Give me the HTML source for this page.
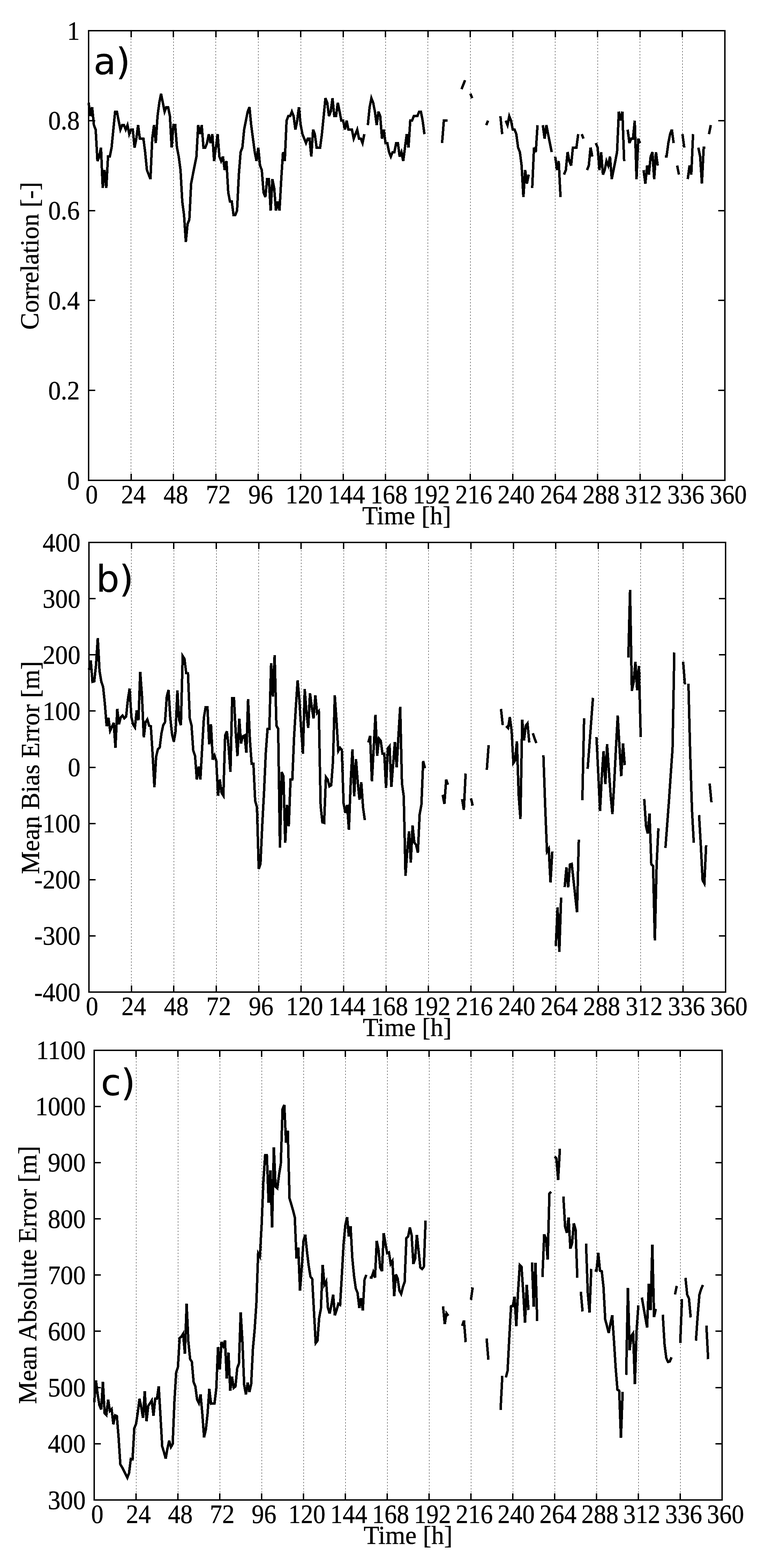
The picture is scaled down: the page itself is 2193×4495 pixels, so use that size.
<!DOCTYPE html>
<html lang="en">
<head>
<meta charset="utf-8">
<title>Correlation, Mean Bias Error and Mean Absolute Error versus Time</title>
<style>
html,body{margin:0;padding:0;background:#fff;}
body{width:2193px;height:4495px;overflow:hidden;}
svg{display:block;}
</style>
</head>
<body>
<svg xmlns="http://www.w3.org/2000/svg" width="2193" height="4495" viewBox="0 0 2193 4495">
<rect width="2193" height="4495" fill="#fff"/>
<g id="panel-a">
<path d="M375.5 110.0V1358.0M497.5 110.0V1358.0M618.5 110.0V1358.0M740.5 110.0V1358.0M862.5 110.0V1358.0M983.5 110.0V1358.0M1105.5 110.0V1358.0M1226.5 110.0V1358.0M1348.5 110.0V1358.0M1470.5 110.0V1358.0M1591.5 110.0V1358.0M1713.5 110.0V1358.0M1834.5 110.0V1358.0M1956.5 110.0V1358.0" stroke="#000" stroke-width="1" stroke-dasharray="4 5" fill="none" shape-rendering="crispEdges"/>
<path d="M376 88.0v19M376 1377.0v-19M497 88.0v19M497 1377.0v-19M619 88.0v19M619 1377.0v-19M740 88.0v19M740 1377.0v-19M862 88.0v19M862 1377.0v-19M984 88.0v19M984 1377.0v-19M1105 88.0v19M1105 1377.0v-19M1227 88.0v19M1227 1377.0v-19M1348 88.0v19M1348 1377.0v-19M1470 88.0v19M1470 1377.0v-19M1592 88.0v19M1592 1377.0v-19M1713 88.0v19M1713 1377.0v-19M1835 88.0v19M1835 1377.0v-19M1956 88.0v19M1956 1377.0v-19" stroke="#000" stroke-width="4" fill="none" shape-rendering="crispEdges"/>
<path d="M254.0 1119h19M2078.0 1119h-19M254.0 861h19M2078.0 861h-19M254.0 604h19M2078.0 604h-19M254.0 346h19M2078.0 346h-19" stroke="#000" stroke-width="4" fill="none" shape-rendering="crispEdges"/>
<path d="M254.0,294.2L259.1,332.9L264.1,307.1L269.2,358.7L274.3,371.6L279.3,461.8L284.4,448.9L289.5,423.1L294.5,539.1L299.6,487.6L304.7,539.1L309.7,448.9L314.8,448.9L319.9,423.1L324.9,371.6L330.0,320.0L335.1,320.0L340.1,345.8L345.2,371.6L350.3,358.7L355.3,358.7L360.4,371.6L365.5,358.7L370.5,384.5L375.6,371.6L380.7,371.6L385.7,423.1L390.8,397.4L395.9,358.7L400.9,397.4L406.0,397.4L411.1,397.4L416.1,436.0L421.2,487.6L426.3,500.5L431.3,513.4L436.4,397.4L441.5,358.7L446.5,410.2L451.6,332.9L456.7,294.2L461.7,268.5L466.8,294.2L471.9,320.0L476.9,307.1L482.0,307.1L487.1,332.9L492.1,423.1L497.2,358.7L502.3,358.7L507.3,423.1L512.4,448.9L517.5,487.6L522.5,577.8L527.6,616.5L532.7,693.8L537.7,642.3L542.8,629.4L547.9,526.3L552.9,500.5L558.0,474.7L563.1,448.9L568.1,358.7L573.2,384.5L578.3,358.7L583.3,423.1L588.4,423.1L593.5,410.2L598.5,384.5L603.6,410.2L608.7,384.5L613.7,461.8L618.8,423.1L623.9,384.5L628.9,448.9L634.0,461.8L639.1,448.9L644.1,487.6L649.2,461.8L654.3,552.0L659.3,577.8L664.4,577.8L669.5,616.5L674.5,616.5L679.6,603.6L684.7,500.5L689.7,436.0L694.8,423.1L699.9,371.6L704.9,345.8L710.0,320.0L715.1,307.1L720.1,358.7L725.2,397.4L730.3,436.0L735.3,461.8L740.4,423.1L745.5,474.7L750.5,487.6L755.6,552.0L760.7,564.9L765.7,513.4L770.8,513.4L775.9,603.6L780.9,513.4L786.0,539.1L791.1,603.6L796.1,577.8L801.2,603.6L806.3,513.4L811.3,436.0L816.4,461.8L821.5,345.8L826.5,332.9L831.6,332.9L836.7,320.0L841.7,332.9L846.8,371.6L851.9,345.8L856.9,307.1L862.0,358.7L867.1,384.5L872.1,397.4L877.2,410.2L882.3,397.4L887.3,397.4L892.4,448.9L897.5,371.6L902.5,384.5L907.6,423.1L912.7,423.1L917.7,423.1L922.8,384.5L927.9,332.9L932.9,281.4L938.0,294.2L943.1,332.9L948.1,320.0L953.2,281.4L958.3,332.9L963.3,332.9L968.4,294.2L973.5,320.0L978.5,345.8L983.6,345.8L988.7,371.6L993.7,345.8L998.8,371.6L1003.9,371.6L1008.9,371.6L1014.0,397.4L1019.1,384.5L1024.1,371.6L1029.2,397.4L1034.3,397.4L1039.3,410.2L1044.4,384.5M1054.5,358.7L1059.6,307.1L1064.7,281.4L1069.7,294.2L1074.8,320.0L1079.9,358.7L1084.9,320.0L1090.0,332.9L1095.1,397.4L1100.1,371.6L1105.2,410.2L1110.3,410.2L1115.3,436.0L1120.4,448.9L1125.5,436.0L1130.5,436.0L1135.6,410.2L1140.7,410.2L1145.7,448.9L1150.8,436.0L1155.9,461.8L1160.9,423.1L1166.0,384.5L1171.1,423.1L1176.1,345.8L1181.2,345.8L1186.3,332.9L1191.3,332.9L1196.4,332.9L1201.5,320.0L1206.5,320.0L1211.6,345.8L1216.7,384.5M1267.3,410.2L1272.4,345.8L1277.5,345.8L1282.5,345.8M1323.1,255.6L1328.1,242.7L1333.2,229.8M1348.4,268.5L1353.5,281.4M1394.0,358.7L1399.1,345.8M1434.5,332.9L1439.6,384.5M1449.7,345.8L1454.8,358.7L1459.9,332.9L1464.9,345.8L1470.0,371.6L1475.1,371.6L1480.1,384.5L1485.2,423.1L1490.3,436.0L1495.3,474.7L1500.4,564.9L1505.5,487.6L1510.5,526.3L1515.6,500.5M1525.7,539.1L1530.8,423.1L1535.9,436.0L1540.9,358.7M1556.1,358.7L1561.2,397.4L1566.3,358.7L1571.3,384.5L1576.4,410.2L1581.5,436.0M1591.6,448.9L1596.7,487.6L1601.7,461.8L1606.8,564.9M1616.9,500.5L1622.0,487.6L1627.1,436.0L1632.1,461.8L1637.2,474.7L1642.3,423.1L1647.3,423.1L1652.4,423.1L1657.5,384.5M1667.6,384.5L1672.7,397.4M1682.8,487.6L1687.9,474.7L1692.9,423.1L1698.0,448.9M1708.1,410.2L1713.2,423.1L1718.3,487.6L1723.3,436.0L1728.4,500.5L1733.5,487.6L1738.5,461.8L1743.6,474.7L1748.7,448.9L1753.7,513.4L1758.8,487.6L1763.9,461.8L1768.9,436.0L1774.0,320.0L1779.1,345.8L1784.1,320.0L1789.2,461.8M1799.3,371.6L1804.4,410.2L1809.5,397.4L1814.5,397.4L1819.6,345.8L1824.7,513.4L1829.7,397.4L1834.8,410.2M1844.9,487.6L1850.0,526.3L1855.1,474.7L1860.1,500.5L1865.2,448.9L1870.3,436.0L1875.3,513.4L1880.4,436.0L1885.5,474.7M1905.7,448.9L1910.8,448.9L1915.9,410.2L1920.9,384.5L1926.0,371.6L1931.1,410.2M1941.2,474.7L1946.3,500.5M1956.4,384.5L1961.5,423.1M1971.6,513.4L1976.7,474.7L1981.7,500.5L1986.8,384.5M2002.0,423.1L2007.1,448.9L2012.1,526.3L2017.2,423.1L2022.3,423.1M2032.4,384.5L2037.5,358.7" stroke="#000" stroke-width="7" fill="none" stroke-linejoin="miter" stroke-miterlimit="3.8" shape-rendering="crispEdges" stroke-linecap="butt"/>
<rect x="254" y="88" width="1824" height="1289" fill="none" stroke="#000" stroke-width="4" shape-rendering="crispEdges"/>
<g font-family="'Liberation Serif', serif" font-size="76" fill="#000" stroke="#000" stroke-width="0.6">
<text transform="translate(228.5 1402.5) scale(0.95 1)" text-anchor="end">0</text>
<text transform="translate(228.5 1144.7) scale(0.95 1)" text-anchor="end">0.2</text>
<text transform="translate(228.5 886.9) scale(0.95 1)" text-anchor="end">0.4</text>
<text transform="translate(228.5 629.1) scale(0.95 1)" text-anchor="end">0.6</text>
<text transform="translate(228.5 371.3) scale(0.95 1)" text-anchor="end">0.8</text>
<text transform="translate(228.5 113.5) scale(0.95 1)" text-anchor="end">1</text>
<text transform="translate(262.9 1443.0) scale(0.93 1)" text-anchor="middle">0</text>
<text transform="translate(382.5 1443.0) scale(0.93 1)" text-anchor="middle">24</text>
<text transform="translate(504.1 1443.0) scale(0.93 1)" text-anchor="middle">48</text>
<text transform="translate(625.7 1443.0) scale(0.93 1)" text-anchor="middle">72</text>
<text transform="translate(747.3 1443.0) scale(0.93 1)" text-anchor="middle">96</text>
<text transform="translate(871.8 1443.0) scale(0.93 1)" text-anchor="middle">120</text>
<text transform="translate(993.4 1443.0) scale(0.93 1)" text-anchor="middle">144</text>
<text transform="translate(1115.0 1443.0) scale(0.93 1)" text-anchor="middle">168</text>
<text transform="translate(1236.6 1443.0) scale(0.93 1)" text-anchor="middle">192</text>
<text transform="translate(1358.2 1443.0) scale(0.93 1)" text-anchor="middle">216</text>
<text transform="translate(1479.8 1443.0) scale(0.93 1)" text-anchor="middle">240</text>
<text transform="translate(1601.4 1443.0) scale(0.93 1)" text-anchor="middle">264</text>
<text transform="translate(1723.0 1443.0) scale(0.93 1)" text-anchor="middle">288</text>
<text transform="translate(1844.6 1443.0) scale(0.93 1)" text-anchor="middle">312</text>
<text transform="translate(1966.2 1443.0) scale(0.93 1)" text-anchor="middle">336</text>
<text transform="translate(2087.8 1443.0) scale(0.93 1)" text-anchor="middle">360</text>
</g>
<g font-family="'Liberation Serif', serif" font-size="73" fill="#000" stroke="#000" stroke-width="0.6">
<text x="1166.0" y="1503.0" text-anchor="middle">Time [h]</text>
<text transform="translate(110 733.5) rotate(-90)" text-anchor="middle">Correlation [-]</text>
</g>
<text transform="translate(268.2 213) scale(1.0 1)" font-family="'DejaVu Sans', sans-serif" font-size="105" fill="#000" stroke="#000" stroke-width="0.4">a)</text>
</g>
<g id="panel-b">
<path d="M376.5 1577.0V2825.0M498.5 1577.0V2825.0M620.5 1577.0V2825.0M741.5 1577.0V2825.0M863.5 1577.0V2825.0M985.5 1577.0V2825.0M1106.5 1577.0V2825.0M1228.5 1577.0V2825.0M1350.5 1577.0V2825.0M1471.5 1577.0V2825.0M1593.5 1577.0V2825.0M1715.5 1577.0V2825.0M1836.5 1577.0V2825.0M1958.5 1577.0V2825.0" stroke="#000" stroke-width="1" stroke-dasharray="4 5" fill="none" shape-rendering="crispEdges"/>
<path d="M377 1555.0v19M377 2844.0v-19M498 1555.0v19M498 2844.0v-19M620 1555.0v19M620 2844.0v-19M742 1555.0v19M742 2844.0v-19M863 1555.0v19M863 2844.0v-19M985 1555.0v19M985 2844.0v-19M1107 1555.0v19M1107 2844.0v-19M1228 1555.0v19M1228 2844.0v-19M1350 1555.0v19M1350 2844.0v-19M1472 1555.0v19M1472 2844.0v-19M1593 1555.0v19M1593 2844.0v-19M1715 1555.0v19M1715 2844.0v-19M1837 1555.0v19M1837 2844.0v-19M1958 1555.0v19M1958 2844.0v-19" stroke="#000" stroke-width="4" fill="none" shape-rendering="crispEdges"/>
<path d="M255.0 2683h19M2080.0 2683h-19M255.0 2522h19M2080.0 2522h-19M255.0 2361h19M2080.0 2361h-19M255.0 2200h19M2080.0 2200h-19M255.0 2038h19M2080.0 2038h-19M255.0 1877h19M2080.0 1877h-19M255.0 1716h19M2080.0 1716h-19" stroke="#000" stroke-width="4" fill="none" shape-rendering="crispEdges"/>
<path d="M255.0,1920.8L260.1,1893.4L265.1,1954.6L270.2,1953.0L275.3,1906.3L280.3,1828.9L285.4,1924.0L290.5,1954.6L295.6,1969.1L300.6,2017.4L305.7,2081.9L310.8,2057.7L315.8,2094.8L320.9,2083.5L326.0,2072.2L331.0,2143.9L336.1,2031.9L341.2,2076.2L346.2,2056.1L351.3,2051.3L356.4,2059.3L361.5,2054.5L366.5,2006.2L371.6,1973.9L376.7,2056.1L381.7,2077.0L386.8,2085.1L391.9,2036.8L396.9,2065.0L402.0,1926.4L407.1,1996.5L412.2,2114.1L417.2,2070.6L422.3,2062.5L427.4,2080.3L432.4,2081.9L437.5,2162.4L442.6,2256.7L447.6,2168.9L452.7,2147.9L457.8,2143.1L462.8,2102.8L467.9,2078.7L473.0,2070.6L478.1,1996.5L483.1,1978.0L488.2,2057.7L493.3,2106.0L498.3,2126.2L503.4,2096.4L508.5,1978.8L513.5,2064.2L518.6,2078.7L523.7,1880.5L528.8,1888.5L533.8,1929.6L538.9,1930.4L544.0,2059.3L549.0,2079.5L554.1,2152.0L559.2,2167.3L564.2,2234.9L569.3,2197.9L574.4,2234.9L579.4,2146.3L584.5,2056.9L589.6,2027.1L594.7,2027.1L599.7,2134.2L604.8,2076.2L609.9,2177.7L614.9,2165.7L620.0,2181.0L625.1,2281.2L630.1,2234.9L635.2,2272.8L640.3,2280.9L645.3,2108.5L650.4,2096.4L655.5,2143.6L660.6,2212.9L665.6,2001.3L670.7,2001.3L675.8,2100.2L680.8,2167.3L685.9,2060.0L691.0,2131.2L696.0,2110.9L701.1,2108.5L706.2,2158.1L711.2,2004.1L716.3,2118.9L721.4,2189.8L726.5,2189.8L731.5,2296.2L736.6,2313.9L741.7,2491.1L746.7,2476.6L751.8,2365.5L756.9,2270.4L761.9,2158.4L767.0,2089.1L772.1,2089.1L777.2,1901.4L782.2,1996.5L787.3,1877.9L792.4,2080.3L797.4,2089.1L802.5,2429.9L807.6,2213.2L812.6,2225.3L817.7,2416.2L822.8,2307.5L827.8,2368.7L832.9,2234.9L838.0,2234.9L843.1,2110.9L848.1,2027.1L853.2,1950.2L858.3,2007.8L863.3,2089.9L868.4,2160.8L873.5,1975.5L878.5,2041.6L883.6,2086.7L888.7,1987.3L893.8,2027.1L898.8,2059.3L903.9,1993.3L909.0,2043.9L914.0,2038.4L919.1,2309.1L924.2,2357.4L929.2,2359.0L934.3,2227.7L939.4,2234.9L944.4,2254.3L949.5,2251.1L954.6,2182.3L959.7,1993.3L964.7,2067.4L969.8,2152.8L974.9,2143.9L979.9,2149.6L985.0,2303.6L990.1,2330.0L995.1,2307.5L1000.2,2379.0L1005.3,2243.0L1010.3,2148.4L1015.4,2282.8L1020.5,2176.3L1025.6,2243.0L1030.6,2293.0L1035.7,2242.5L1040.8,2315.5L1045.8,2351.0M1056.0,2128.6L1061.0,2109.3L1066.1,2239.5L1071.2,2146.3L1076.2,2049.2L1081.3,2166.6L1086.4,2117.3L1091.5,2123.8L1096.5,2160.8L1101.6,2160.8L1106.7,2259.1L1111.7,2145.4L1116.8,2139.1L1121.9,2255.9L1126.9,2191.9L1132.0,2127.3L1137.1,2199.7L1142.2,2109.3L1147.2,2026.5L1152.3,2245.6L1157.4,2282.8L1162.4,2510.5L1167.5,2439.6L1172.6,2383.2L1177.6,2472.6L1182.7,2366.6L1187.8,2415.4L1192.8,2421.9L1197.9,2444.4L1203.0,2334.8L1208.1,2306.6L1213.1,2181.8L1218.2,2202.1M1268.9,2278.5L1274.0,2304.2L1279.0,2234.9L1284.1,2249.4M1324.7,2290.9L1329.7,2321.5L1334.8,2217.5M1350.0,2288.4L1355.1,2309.5M1395.6,2207.1L1400.7,2136.2M1436.2,2032.4L1441.2,2078.7M1451.4,2081.6L1456.5,2086.7L1461.5,2055.8L1466.6,2094.8L1471.7,2187.6L1476.7,2179.7L1481.8,2125.1L1486.9,2280.1L1491.9,2347.7L1497.0,2063.2L1502.1,2123.0L1507.2,2080.3L1512.2,2073.8L1517.3,2128.6M1527.4,2102.0L1532.5,2117.3L1537.6,2130.2M1557.8,2164.7L1562.9,2312.3L1568.0,2441.2L1573.1,2433.1L1578.1,2529.8L1583.2,2441.2M1593.3,2711.9L1598.4,2601.2L1603.5,2728.5L1608.5,2573.3M1618.7,2543.3L1623.8,2486.3L1628.8,2543.3L1633.9,2478.2L1639.0,2476.6L1644.0,2522.9L1649.1,2569.1L1654.2,2615.2L1659.2,2406.9M1669.4,2294.1L1674.4,2058.7M1684.6,2204.3L1689.7,2136.7L1694.7,2069.0L1699.8,2000.5M1709.9,2113.3L1715.0,2217.2L1720.1,2324.7L1725.1,2226.9L1730.2,2153.1L1735.3,2248.2L1740.3,2133.4L1745.4,2206.8L1750.5,2279.3L1755.6,2334.0L1760.6,2247.8L1765.7,2144.7L1770.8,2051.3L1775.8,2140.7L1780.9,2225.3L1786.0,2131.3L1791.0,2193.4M1801.2,1885.3L1806.2,1691.2L1811.3,1980.4L1816.4,1955.4L1821.5,1896.9L1826.5,1979.2L1831.6,1908.8L1836.7,2113.3M1846.8,2290.5L1851.9,2368.2L1856.9,2389.6L1862.0,2331.9L1867.1,2477.8L1872.2,2483.1L1877.2,2696.1L1882.3,2479.9L1887.4,2374.5M1907.6,2430.7L1912.7,2362.2L1917.8,2294.6L1922.8,2219.6L1927.9,2147.9L1933.0,1870.5M1958.3,1896.9L1963.4,1962.0M1973.5,1959.6L1978.6,2162.8L1983.7,2322.0L1988.8,2415.9M2004.0,2336.5L2009.0,2424.1L2014.1,2523.4L2019.2,2532.7L2024.2,2423.1M2034.4,2246.2L2039.4,2300.2" stroke="#000" stroke-width="7" fill="none" stroke-linejoin="miter" stroke-miterlimit="3.8" shape-rendering="crispEdges" stroke-linecap="butt"/>
<rect x="255" y="1555" width="1825" height="1289" fill="none" stroke="#000" stroke-width="4" shape-rendering="crispEdges"/>
<g font-family="'Liberation Serif', serif" font-size="76" fill="#000" stroke="#000" stroke-width="0.6">
<text transform="translate(230.5 2869.5) scale(0.95 1)" text-anchor="end">-400</text>
<text transform="translate(230.5 2708.4) scale(0.95 1)" text-anchor="end">-300</text>
<text transform="translate(230.5 2547.2) scale(0.95 1)" text-anchor="end">-200</text>
<text transform="translate(230.5 2386.1) scale(0.95 1)" text-anchor="end">-100</text>
<text transform="translate(230.5 2225.0) scale(0.95 1)" text-anchor="end">0</text>
<text transform="translate(230.5 2063.9) scale(0.95 1)" text-anchor="end">100</text>
<text transform="translate(230.5 1902.8) scale(0.95 1)" text-anchor="end">200</text>
<text transform="translate(230.5 1741.6) scale(0.95 1)" text-anchor="end">300</text>
<text transform="translate(230.5 1580.5) scale(0.95 1)" text-anchor="end">400</text>
<text transform="translate(263.9 2910.0) scale(0.93 1)" text-anchor="middle">0</text>
<text transform="translate(383.6 2910.0) scale(0.93 1)" text-anchor="middle">24</text>
<text transform="translate(505.2 2910.0) scale(0.93 1)" text-anchor="middle">48</text>
<text transform="translate(626.9 2910.0) scale(0.93 1)" text-anchor="middle">72</text>
<text transform="translate(748.6 2910.0) scale(0.93 1)" text-anchor="middle">96</text>
<text transform="translate(873.1 2910.0) scale(0.93 1)" text-anchor="middle">120</text>
<text transform="translate(994.8 2910.0) scale(0.93 1)" text-anchor="middle">144</text>
<text transform="translate(1116.5 2910.0) scale(0.93 1)" text-anchor="middle">168</text>
<text transform="translate(1238.1 2910.0) scale(0.93 1)" text-anchor="middle">192</text>
<text transform="translate(1359.8 2910.0) scale(0.93 1)" text-anchor="middle">216</text>
<text transform="translate(1481.5 2910.0) scale(0.93 1)" text-anchor="middle">240</text>
<text transform="translate(1603.1 2910.0) scale(0.93 1)" text-anchor="middle">264</text>
<text transform="translate(1724.8 2910.0) scale(0.93 1)" text-anchor="middle">288</text>
<text transform="translate(1846.5 2910.0) scale(0.93 1)" text-anchor="middle">312</text>
<text transform="translate(1968.1 2910.0) scale(0.93 1)" text-anchor="middle">336</text>
<text transform="translate(2089.8 2910.0) scale(0.93 1)" text-anchor="middle">360</text>
</g>
<g font-family="'Liberation Serif', serif" font-size="73" fill="#000" stroke="#000" stroke-width="0.6">
<text x="1167.5" y="2970.0" text-anchor="middle">Time [h]</text>
<text transform="translate(111.5 2200.5) rotate(-90)" text-anchor="middle">Mean Bias Error [m]</text>
</g>
<text transform="translate(275.4 1696) scale(1.0 1)" font-family="'DejaVu Sans', sans-serif" font-size="105" fill="#000" stroke="#000" stroke-width="0.4">b)</text>
</g>
<g id="panel-c">
<path d="M390.5 3032.5V4281.0M510.5 3032.5V4281.0M630.5 3032.5V4281.0M750.5 3032.5V4281.0M870.5 3032.5V4281.0M990.5 3032.5V4281.0M1110.5 3032.5V4281.0M1230.5 3032.5V4281.0M1350.5 3032.5V4281.0M1470.5 3032.5V4281.0M1590.5 3032.5V4281.0M1710.5 3032.5V4281.0M1830.5 3032.5V4281.0M1950.5 3032.5V4281.0" stroke="#000" stroke-width="1" stroke-dasharray="4 5" fill="none" shape-rendering="crispEdges"/>
<path d="M390 3010.5v19M390 4300.0v-19M510 3010.5v19M510 4300.0v-19M630 3010.5v19M630 4300.0v-19M750 3010.5v19M750 4300.0v-19M870 3010.5v19M870 4300.0v-19M990 3010.5v19M990 4300.0v-19M1110 3010.5v19M1110 4300.0v-19M1230 3010.5v19M1230 4300.0v-19M1350 3010.5v19M1350 4300.0v-19M1470 3010.5v19M1470 4300.0v-19M1590 3010.5v19M1590 4300.0v-19M1710 3010.5v19M1710 4300.0v-19M1830 3010.5v19M1830 4300.0v-19M1950 3010.5v19M1950 4300.0v-19" stroke="#000" stroke-width="4" fill="none" shape-rendering="crispEdges"/>
<path d="M270.0 4139h19M2070.0 4139h-19M270.0 3978h19M2070.0 3978h-19M270.0 3816h19M2070.0 3816h-19M270.0 3655h19M2070.0 3655h-19M270.0 3494h19M2070.0 3494h-19M270.0 3333h19M2070.0 3333h-19M270.0 3172h19M2070.0 3172h-19" stroke="#000" stroke-width="4" fill="none" shape-rendering="crispEdges"/>
<path d="M270.0,4020.0L275.0,3957.3L280.0,3997.3L285.0,4028.2L290.0,4040.6L295.0,3961.5L300.0,4051.1L305.0,4056.3L310.0,4012.1L315.0,4044.8L320.0,4039.7L325.0,4083.0L330.0,4057.3L335.0,4059.3L340.0,4121.4L345.0,4198.0L350.0,4206.2L355.0,4216.2L360.0,4226.2L365.0,4236.2L370.0,4222.6L375.0,4182.3L380.0,4183.5L385.0,4094.5L390.0,4082.1L395.0,4049.0L400.0,4010.0L405.0,4034.5L410.0,4064.5L415.0,3988.4L420.0,4074.2L425.0,4030.3L430.0,4022.8L435.0,4014.7L440.0,4058.2L445.0,4009.9L450.0,4009.9L455.0,3974.1L460.0,4059.3L465.0,4146.2L470.0,4162.7L475.0,4181.4L480.0,4152.4L485.0,4130.3L490.0,4148.3L495.0,4139.9L500.0,4017.9L505.0,3934.9L510.0,3919.6L515.0,3835.8L520.0,3831.8L525.0,3823.5L530.0,3880.4L535.0,3737.6L540.0,3846.3L545.0,3895.9L550.0,3904.1L555.0,3962.0L560.0,3974.4L565.0,4011.6L570.0,4022.1L575.0,3997.6L580.0,4053.1L585.0,4120.3L590.0,4098.5L595.0,4053.4L600.0,3981.7L605.0,4024.0L610.0,4023.1L615.0,4023.1L620.0,3980.8L625.0,3861.7L630.0,3925.4L635.0,3847.2L640.0,3858.7L645.0,3842.7L650.0,3951.8L655.0,3877.7L660.0,3986.5L665.0,3946.5L670.0,3978.6L675.0,3974.4L680.0,3922.8L685.0,3908.3L690.0,3762.4L695.0,3846.3L700.0,3970.4L705.0,3997.3L710.0,3963.8L715.0,3990.5L720.0,3968.3L725.0,3866.9L730.0,3811.6L735.0,3735.8L740.0,3593.2L745.0,3602.1L750.0,3511.8L755.0,3387.7L760.0,3311.9L765.0,3311.9L770.0,3447.8L775.0,3355.1L780.0,3518.6L785.0,3289.0L790.0,3402.2L795.0,3406.4L800.0,3367.2L805.0,3336.1L810.0,3178.9L815.0,3167.5L820.0,3276.1L825.0,3241.0L830.0,3435.4L835.0,3452.3L840.0,3469.6L845.0,3489.2L850.0,3607.7L855.0,3576.3L860.0,3699.7L865.0,3635.1L870.0,3556.9L875.0,3539.4L880.0,3587.6L885.0,3629.0L890.0,3659.9L895.0,3666.2L900.0,3759.2L905.0,3850.3L910.0,3843.8L915.0,3777.8L920.0,3751.0L925.0,3625.8L930.0,3682.7L935.0,3673.5L940.0,3748.9L945.0,3765.5L950.0,3740.7L955.0,3711.7L960.0,3770.7L965.0,3755.2L970.0,3737.5L975.0,3740.7L980.0,3655.2L985.0,3565.5L990.0,3511.8L995.0,3489.2L1000.0,3544.7L1005.0,3515.2L1010.0,3606.9L1015.0,3658.5L1020.0,3693.9L1025.0,3706.0L1030.0,3749.5L1035.0,3721.3L1040.0,3756.8L1045.0,3668.8L1050.0,3654.4M1060.0,3661.7L1065.0,3662.7L1070.0,3647.2L1075.0,3662.7L1080.0,3557.1L1085.0,3582.7L1090.0,3634.3L1095.0,3644.0L1100.0,3535.0L1105.0,3565.5L1110.0,3592.4L1115.0,3590.3L1120.0,3623.3L1125.0,3615.0L1130.0,3715.4L1135.0,3653.3L1140.0,3664.9L1145.0,3699.9L1150.0,3709.2L1155.0,3689.6L1160.0,3675.1L1165.0,3548.9L1170.0,3544.7L1175.0,3518.9L1180.0,3540.8L1185.0,3623.3L1190.0,3608.8L1195.0,3540.2L1200.0,3585.9L1205.0,3633.7L1210.0,3637.8L1215.0,3631.6L1220.0,3499.2M1270.0,3744.7L1275.0,3795.5L1280.0,3764.9L1285.0,3771.9M1325.0,3801.0L1330.0,3785.5L1335.0,3847.5M1350.0,3726.5L1355.0,3690.7M1395.0,3837.2L1400.0,3898.2M1435.0,4041.9L1440.0,3944.3M1450.0,3948.8L1455.0,3930.2L1460.0,3834.2L1465.0,3744.7L1470.0,3743.9L1475.0,3717.1L1480.0,3801.4L1485.0,3704.7L1490.0,3626.2L1495.0,3631.1L1500.0,3704.7L1505.0,3791.6L1510.0,3683.1L1515.0,3755.5M1525.0,3618.8L1530.0,3746.0L1535.0,3619.8L1540.0,3786.9M1555.0,3661.2L1560.0,3538.6L1565.0,3550.5L1570.0,3610.6L1575.0,3421.5L1580.0,3416.7M1590.0,3315.8L1595.0,3320.9L1600.0,3382.4L1605.0,3293.1M1615.0,3430.2L1620.0,3516.6L1625.0,3534.0L1630.0,3490.0L1635.0,3579.5L1640.0,3564.0L1645.0,3507.1L1650.0,3524.7L1655.0,3663.0M1665.0,3703.0L1670.0,3759.5M1680.0,3565.0L1685.0,3706.8L1690.0,3762.6L1695.0,3637.5M1705.0,3641.7L1710.0,3642.8L1715.0,3591.6L1720.0,3642.8L1725.0,3644.0L1730.0,3689.4L1735.0,3782.6L1740.0,3801.3L1745.0,3821.0L1750.0,3794.2L1755.0,3770.5L1760.0,3843.2L1765.0,3922.3L1770.0,3984.1L1775.0,3986.3L1780.0,4121.6L1785.0,3989.9M1795.0,3941.5L1800.0,3692.3L1805.0,3870.6L1810.0,3829.2L1815.0,3822.2L1820.0,3967.8L1825.0,3812.9L1830.0,3741.8M1840.0,3719.7L1845.0,3748.6L1850.0,3777.3L1855.0,3805.5L1860.0,3680.6L1865.0,3755.8L1870.0,3567.6L1875.0,3775.7L1880.0,3752.3M1900.0,3768.6L1905.0,3853.5L1910.0,3893.0L1915.0,3904.3L1920.0,3903.0L1925.0,3891.1M1935.0,3710.9L1940.0,3686.4M1950.0,3850.3L1955.0,3723.8M1965.0,3663.3L1970.0,3711.3L1975.0,3722.6L1980.0,3776.6M1995.0,3843.5L2000.0,3771.9L2005.0,3711.3L2010.0,3695.5L2015.0,3683.6M2025.0,3799.7L2030.0,3896.4" stroke="#000" stroke-width="7" fill="none" stroke-linejoin="miter" stroke-miterlimit="3.8" shape-rendering="crispEdges" stroke-linecap="butt"/>
<rect x="270" y="3010.5" width="1800" height="1289.5" fill="none" stroke="#000" stroke-width="4" shape-rendering="crispEdges"/>
<g font-family="'Liberation Serif', serif" font-size="76" fill="#000" stroke="#000" stroke-width="0.6">
<text transform="translate(245.5 4325.5) scale(0.95 1)" text-anchor="end">300</text>
<text transform="translate(245.5 4164.3) scale(0.95 1)" text-anchor="end">400</text>
<text transform="translate(245.5 4003.1) scale(0.95 1)" text-anchor="end">500</text>
<text transform="translate(245.5 3841.9) scale(0.95 1)" text-anchor="end">600</text>
<text transform="translate(245.5 3680.8) scale(0.95 1)" text-anchor="end">700</text>
<text transform="translate(245.5 3519.6) scale(0.95 1)" text-anchor="end">800</text>
<text transform="translate(245.5 3358.4) scale(0.95 1)" text-anchor="end">900</text>
<text transform="translate(245.5 3197.2) scale(0.95 1)" text-anchor="end">1000</text>
<text transform="translate(245.5 3036.0) scale(0.95 1)" text-anchor="end">1100</text>
<text transform="translate(278.9 4366.0) scale(0.93 1)" text-anchor="middle">0</text>
<text transform="translate(396.9 4366.0) scale(0.93 1)" text-anchor="middle">24</text>
<text transform="translate(516.9 4366.0) scale(0.93 1)" text-anchor="middle">48</text>
<text transform="translate(636.9 4366.0) scale(0.93 1)" text-anchor="middle">72</text>
<text transform="translate(756.9 4366.0) scale(0.93 1)" text-anchor="middle">96</text>
<text transform="translate(879.8 4366.0) scale(0.93 1)" text-anchor="middle">120</text>
<text transform="translate(999.8 4366.0) scale(0.93 1)" text-anchor="middle">144</text>
<text transform="translate(1119.8 4366.0) scale(0.93 1)" text-anchor="middle">168</text>
<text transform="translate(1239.8 4366.0) scale(0.93 1)" text-anchor="middle">192</text>
<text transform="translate(1359.8 4366.0) scale(0.93 1)" text-anchor="middle">216</text>
<text transform="translate(1479.8 4366.0) scale(0.93 1)" text-anchor="middle">240</text>
<text transform="translate(1599.8 4366.0) scale(0.93 1)" text-anchor="middle">264</text>
<text transform="translate(1719.8 4366.0) scale(0.93 1)" text-anchor="middle">288</text>
<text transform="translate(1839.8 4366.0) scale(0.93 1)" text-anchor="middle">312</text>
<text transform="translate(1959.8 4366.0) scale(0.93 1)" text-anchor="middle">336</text>
<text transform="translate(2079.8 4366.0) scale(0.93 1)" text-anchor="middle">360</text>
</g>
<g font-family="'Liberation Serif', serif" font-size="73" fill="#000" stroke="#000" stroke-width="0.6">
<text x="1170.0" y="4426.0" text-anchor="middle">Time [h]</text>
<text transform="translate(103.7 3654.8) rotate(-90)" text-anchor="middle">Mean Absolute Error [m]</text>
</g>
<text transform="translate(289.2 3140.0) scale(1.0 1)" font-family="'DejaVu Sans', sans-serif" font-size="105" fill="#000" stroke="#000" stroke-width="0.4">c)</text>
</g>
</svg>
</body>
</html>
